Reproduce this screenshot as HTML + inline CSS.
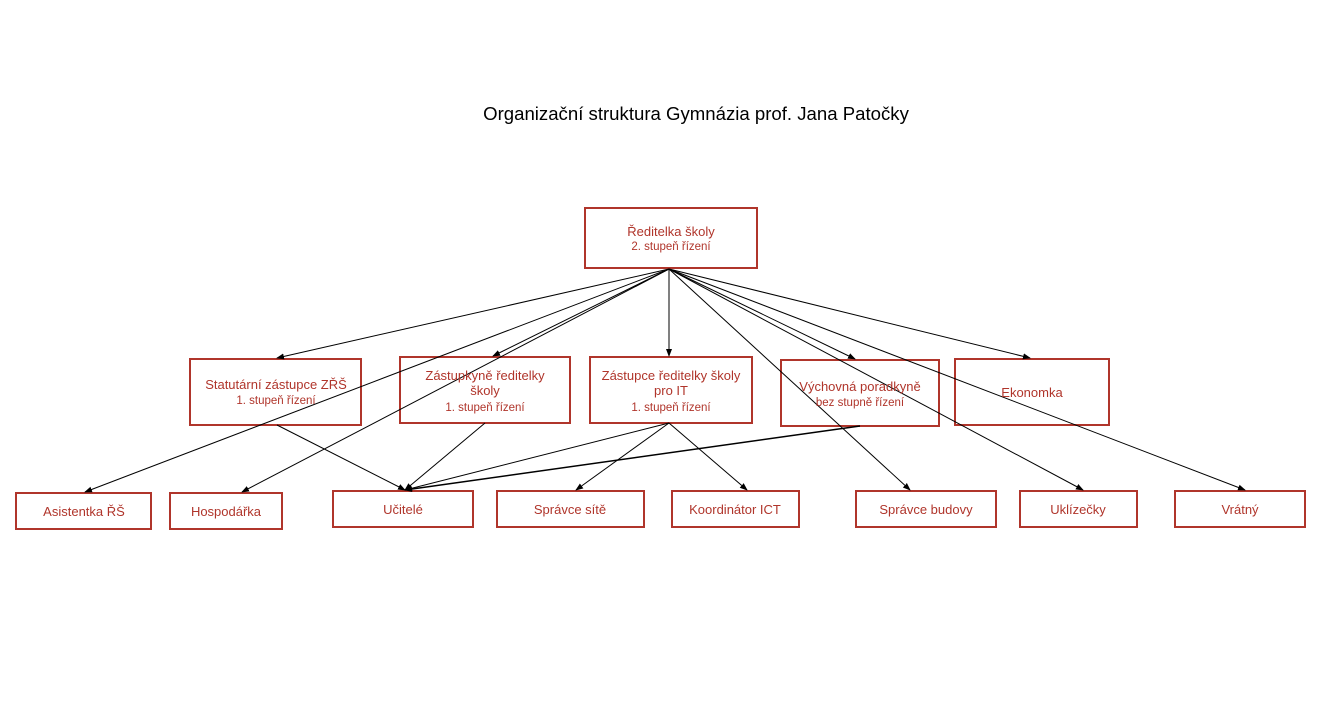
<!DOCTYPE html>
<html><head><meta charset="utf-8"><style>
body{margin:0;background:#fff;}
svg{display:block}
.b{fill:#fff;stroke:#b0352b;stroke-width:2}
.t{font-family:"Liberation Sans",sans-serif;fill:#b0352b;text-anchor:middle}
.l{stroke:#000;stroke-width:1;fill:none;marker-end:url(#a)}
</style></head><body>
<svg width="1329" height="723" viewBox="0 0 1329 723">
<defs><marker id="a" markerWidth="8" markerHeight="8" refX="7" refY="4" orient="auto" markerUnits="userSpaceOnUse"><path d="M0,1 L8,4 L0,7 z" fill="#000"/></marker></defs>
<text x="696" y="120" font-family="Liberation Sans,sans-serif" font-size="18.6" text-anchor="middle" fill="#000">Organizační struktura Gymnázia prof. Jana Patočky</text>

<rect class="b" x="585" y="208" width="172" height="60"/>
<rect class="b" x="190" y="359" width="171" height="66"/>
<rect class="b" x="400" y="357" width="170" height="66"/>
<rect class="b" x="590" y="357" width="162" height="66"/>
<rect class="b" x="781" y="360" width="158" height="66"/>
<rect class="b" x="955" y="359" width="154" height="66"/>
<rect class="b" x="16" y="493" width="135" height="36"/>
<rect class="b" x="170" y="493" width="112" height="36"/>
<rect class="b" x="333" y="491" width="140" height="36"/>
<rect class="b" x="497" y="491" width="147" height="36"/>
<rect class="b" x="672" y="491" width="127" height="36"/>
<rect class="b" x="856" y="491" width="140" height="36"/>
<rect class="b" x="1020" y="491" width="117" height="36"/>
<rect class="b" x="1175" y="491" width="130" height="36"/>

<g class="l">
<line x1="669" y1="269" x2="277" y2="358"/>
<line x1="669" y1="269" x2="493" y2="356"/>
<line x1="669" y1="269" x2="669" y2="356"/>
<line x1="669" y1="269" x2="855" y2="359"/>
<line x1="669" y1="269" x2="1030" y2="358"/>
<line x1="669" y1="269" x2="85" y2="492"/>
<line x1="669" y1="269" x2="242" y2="492"/>
<line x1="669" y1="269" x2="910" y2="490"/>
<line x1="669" y1="269" x2="1083" y2="490"/>
<line x1="669" y1="269" x2="1245" y2="490"/>
<line x1="277" y1="425" x2="405" y2="490"/>
<line x1="485" y1="423" x2="405" y2="490"/>
<line x1="669" y1="423" x2="405" y2="490"/>
<line x1="669" y1="423" x2="576" y2="490"/>
<line x1="669" y1="423" x2="747" y2="490"/>
<line x1="860" y1="426" x2="405" y2="490" stroke-width="1.5"/>
</g>

<g class="t" font-size="13">
<text x="671" y="236">Ředitelka školy</text>
<text x="671" y="250" font-size="11.5">2. stupeň řízení</text>
<text x="276" y="389">Statutární zástupce ZŘŠ</text>
<text x="276" y="404" font-size="11.5">1. stupeň řízení</text>
<text x="485" y="380">Zástupkyně ředitelky</text>
<text x="485" y="395">školy</text>
<text x="485" y="411" font-size="11.5">1. stupeň řízení</text>
<text x="671" y="380">Zástupce ředitelky školy</text>
<text x="671" y="395">pro IT</text>
<text x="671" y="411" font-size="11.5">1. stupeň řízení</text>
<text x="860" y="391">Výchovná poradkyně</text>
<text x="860" y="406" font-size="11.5">bez stupně řízení</text>
<text x="1032" y="397">Ekonomka</text>
<text x="84" y="516">Asistentka ŘŠ</text>
<text x="226" y="516">Hospodářka</text>
<text x="403" y="514">Učitelé</text>
<text x="570" y="514">Správce sítě</text>
<text x="735" y="514">Koordinátor ICT</text>
<text x="926" y="514">Správce budovy</text>
<text x="1078" y="514">Uklízečky</text>
<text x="1240" y="514">Vrátný</text>
</g>
</svg>
</body></html>
